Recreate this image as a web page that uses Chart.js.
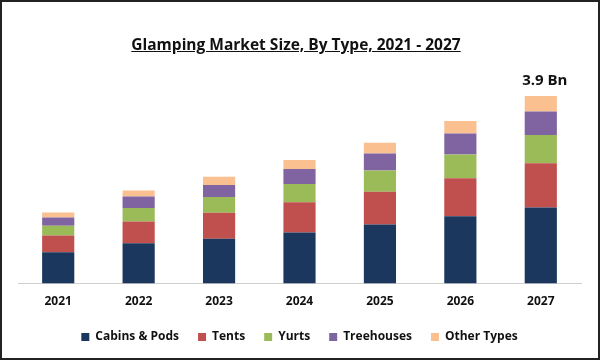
<!DOCTYPE html>
<html>
<head>
<meta charset="utf-8">
<script src="https://cdn.jsdelivr.net/npm/chart.js@4/dist/chart.umd.min.js"></script>
<style>
  html, body { margin: 0; padding: 0; background: #fff; }
  #wrap { position: relative; width: 600px; height: 360px; }
  #chart { display: block; outline: 2px solid #222; outline-offset: -2px; }
  #title {
    position: absolute; left: -4px; top: 33px; width: 600px; text-align: center;
    font-family: "Open Sans", sans-serif; font-weight: bold; font-size: 15.5px;
    text-decoration: underline; color: #111;
  }
</style>
</head>
<body>
<div id="wrap">
  <canvas id="chart" width="600" height="360"></canvas>
  <div id="title">Glamping Market Size, By Type, 2021 - 2027</div>
</div>
<script>
// ปี
const years = ['2021', '2022', '2023', '2024', '2025', '2026', '2027'];

// มูลค่าตลาด (Bn) แยกตามประเภท
const cabinsPods = [0.65, 0.84, 0.93, 1.06, 1.23, 1.40, 1.58];
const tents      = [0.35, 0.45, 0.54, 0.63, 0.68, 0.79, 0.92];
const yurts      = [0.20, 0.28, 0.33, 0.38, 0.44, 0.49, 0.585];
const treehouses = [0.175, 0.24, 0.25, 0.31, 0.355, 0.44, 0.49];
const otherTypes = [0.10, 0.125, 0.17, 0.19, 0.22, 0.26, 0.32];

const topLabel = '3.9 Bn';

const fontFamily = '"Open Sans", "Liberation Sans", sans-serif';

// ป้ายกำกับเหนือแท่งสุดท้าย
const topLabelPlugin = {
    id: 'topLabel',
    afterDatasetsDraw(chart) {
        const meta = chart.getDatasetMeta(chart.data.datasets.length - 1);
        const bar = meta.data[meta.data.length - 1];
        const ctx = chart.ctx;
        ctx.save();
        ctx.font = 'bold 15px ' + fontFamily;
        ctx.fillStyle = '#111';
        ctx.textAlign = 'center';
        ctx.textBaseline = 'bottom';
        ctx.fillText(topLabel, bar.x + 4, bar.y - 8);
        ctx.restore();
    }
};

const ctx = document.getElementById('chart').getContext('2d');
const chart = new Chart(ctx, {
    type: 'bar',
    data: {
        labels: years,
        datasets: [
            { label: 'Cabins & Pods', data: cabinsPods, backgroundColor: '#1B375E' },
            { label: 'Tents', data: tents, backgroundColor: '#C0504D' },
            { label: 'Yurts', data: yurts, backgroundColor: '#9BBB59' },
            { label: 'Treehouses', data: treehouses, backgroundColor: '#8064A2' },
            { label: 'Other Types', data: otherTypes, backgroundColor: '#FAC090' }
        ]
    },
    options: {
        responsive: false,
        animation: false,
        layout: { padding: { left: 18, right: 19, top: 67, bottom: 7 } },
        datasets: { bar: { barPercentage: 0.4, categoryPercentage: 1.0 } },
        scales: {
            x: {
                stacked: true,
                grid: { display: false },
                border: { color: '#d0d0d0', width: 1 },
                ticks: { color: '#111', font: { family: fontFamily, weight: 'bold', size: 12 }, padding: 3 }
            },
            y: {
                stacked: true,
                display: false,
                min: 0,
                max: 4.5
            }
        },
        plugins: {
            legend: {
                position: 'bottom',
                labels: {
                    color: '#111',
                    font: { family: fontFamily, weight: 'bold', size: 12 },
                    boxWidth: 8,
                    boxHeight: 8,
                    padding: 19
                }
            },
            tooltip: { enabled: false }
        }
    },
    plugins: [topLabelPlugin]
});
</script>
</body>
</html>
